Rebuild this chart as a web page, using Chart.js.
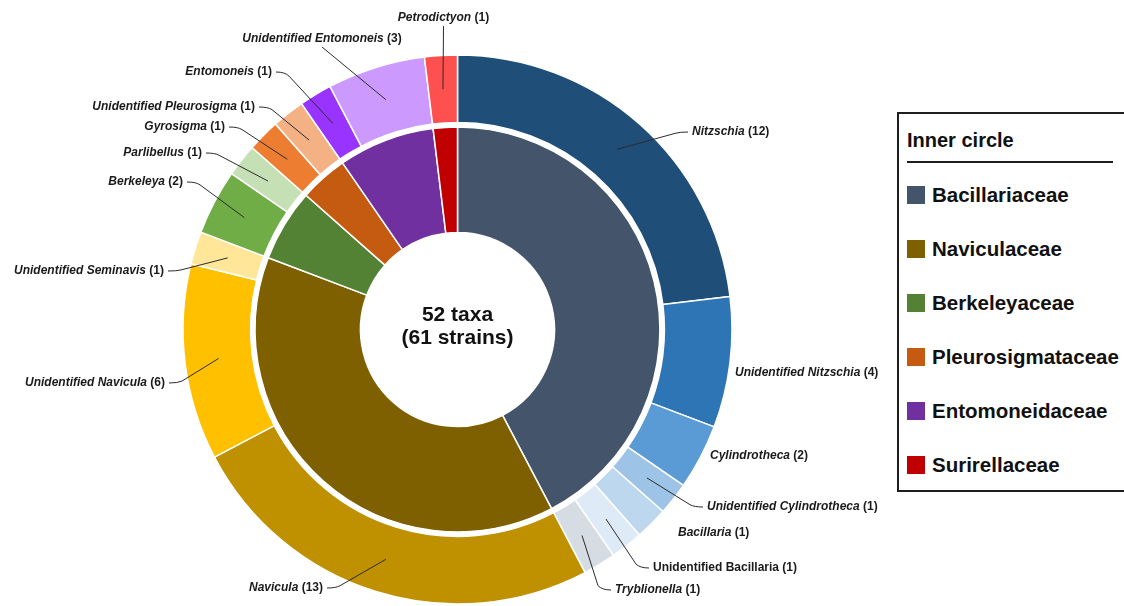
<!DOCTYPE html>
<html>
<head>
<meta charset="utf-8">
<title>Diatom taxa</title>
<script src="https://cdn.jsdelivr.net/npm/chart.js@4.4.1/dist/chart.umd.min.js"></script>
<style>
    html, body { margin: 0; padding: 0; background: #fff; overflow: hidden; }
    #wrap { position: relative; width: 1124px; height: 606px; overflow: hidden; font-family: "Liberation Sans", Arial, sans-serif; }
    #ringChart { position: absolute; left: 0; top: 0; }
    #legend {
        position: absolute; left: 897px; top: 112px; width: 280px; height: 380px;
        border: 2px solid #1e1e1e; box-sizing: border-box; background: #fff;
    }
    #legend .legend-title {
        margin: 14px 0 0 8px; font-size: 20px; font-weight: bold; line-height: 24px; color: #111;
    }
    #legend .legend-rule { margin: 9px 0 0 8px; width: 206px; height: 2px; background: #1e1e1e; }
    #legend ul { list-style: none; margin: 5px 0 0 8px; padding: 0; }
    #legend li { height: 54px; display: flex; align-items: center; font-size: 20.5px; font-weight: bold; color: #111; }
    #legend .swatch { width: 18px; height: 18px; margin-right: 7px; flex: none; }
</style>
</head>
<body>
<div id="wrap">
    <canvas id="ringChart" width="1124" height="606"></canvas>
    <div id="legend">
        <div class="legend-title">Inner circle</div>
        <div class="legend-rule"></div>
        <ul id="legend-list"></ul>
    </div>
</div>
<script>
// Outer ring: genera (number of taxa)
const genusNames = [
    'Nitzschia', 'Unidentified Nitzschia', 'Cylindrotheca', 'Unidentified Cylindrotheca',
    'Bacillaria', 'Unidentified Bacillaria', 'Tryblionella',
    'Navicula', 'Unidentified Navicula', 'Unidentified Seminavis',
    'Berkeleya', 'Parlibellus',
    'Gyrosigma', 'Unidentified Pleurosigma',
    'Entomoneis', 'Unidentified Entomoneis',
    'Petrodictyon'
];
const genusCounts = [12, 4, 2, 1, 1, 1, 1, 13, 6, 1, 2, 1, 1, 1, 1, 3, 1];
const genusColors = [
    '#1f4e79', '#2e75b6', '#5b9bd5', '#9dc3e6', '#bdd7ee', '#deebf7', '#d6dce4',
    '#bf9000', '#ffc000', '#ffe699',
    '#70ad47', '#c5e0b4',
    '#ed7d31', '#f4b183',
    '#9933ff', '#cc99ff',
    '#ff5050'
];
// names printed upright instead of italic
const uprightNames = ['Unidentified Bacillaria'];

// Inner ring: families
const familyNames = ['Bacillariaceae', 'Naviculaceae', 'Berkeleyaceae', 'Pleurosigmataceae', 'Entomoneidaceae', 'Surirellaceae'];
const familyCounts = [22, 20, 3, 2, 4, 1];
const familyColors = ['#44546a', '#7f6000', '#548235', '#c55a11', '#7030a0', '#c00000'];

const centerLines = ['52 taxa', '(61 strains)'];

// where each genus label sits, relative to the chart centre
// align: which side of the text the leader attaches to; lead: 'stub' | 'below' | null
const calloutLayout = [
    { dx: 234.5, dy: -197.5, align: 'left', lead: 'stub' },
    { dx: 277.5, dy: 43.5, align: 'left', lead: null },
    { dx: 252.5, dy: 126.5, align: 'left', lead: null },
    { dx: 249.5, dy: 177.5, align: 'left', lead: 'stub' },
    { dx: 220.5, dy: 203.5, align: 'left', lead: null },
    { dx: 195.5, dy: 238.5, align: 'left', lead: 'stub' },
    { dx: 157.5, dy: 260.5, align: 'left', lead: 'stub' },
    { dx: -134.5, dy: 258.5, align: 'right', lead: 'stub' },
    { dx: -292.5, dy: 53.5, align: 'right', lead: 'stub' },
    { dx: -293.5, dy: -58.5, align: 'right', lead: 'stub' },
    { dx: -274.5, dy: -147.5, align: 'right', lead: 'stub' },
    { dx: -255.5, dy: -176.5, align: 'right', lead: 'stub' },
    { dx: -232.5, dy: -202.5, align: 'right', lead: 'stub' },
    { dx: -202.5, dy: -222.5, align: 'right', lead: 'stub' },
    { dx: -185.5, dy: -257.5, align: 'right', lead: 'stub' },
    { dx: -135.5, dy: -290.5, align: 'center', lead: 'below' },
    { dx: -14, dy: -311.5, align: 'center', lead: 'below' }
];

const FONT = '"Liberation Sans", Arial, sans-serif';

// genus labels with leader lines + the text in the hole
const calloutPlugin = {
    id: 'callouts',
    afterDraw(chart) {
        const ctx = chart.ctx;
        const outer = chart.getDatasetMeta(0);
        const cx = outer.data[0].x;
        const cy = outer.data[0].y;

        ctx.save();
        ctx.textBaseline = 'middle';
        genusNames.forEach((name, i) => {
            const pos = calloutLayout[i];
            const arc = outer.data[i];
            const anchor = arc.getCenterPoint();
            const tx = cx + pos.dx;
            const ty = cy + pos.dy;

            const nameFont = (uprightNames.includes(name) ? 'bold ' : 'italic bold ') + '12px ' + FONT;
            const countText = ' (' + genusCounts[i] + ')';
            ctx.font = nameFont;
            const nameW = ctx.measureText(name).width;
            ctx.font = 'bold 12px ' + FONT;
            const countW = ctx.measureText(countText).width;
            const totalW = nameW + countW;

            let left = tx;
            if (pos.align === 'right') left = tx - totalW;
            else if (pos.align === 'center') left = tx - totalW / 2;

            // leader line
            if (pos.lead) {
                ctx.strokeStyle = '#2b2b2b';
                ctx.lineWidth = 1;
                ctx.beginPath();
                if (pos.lead === 'below') {
                    ctx.moveTo(tx, ty + 8);
                    ctx.lineTo(anchor.x, anchor.y);
                } else {
                    const dir = pos.align === 'right' ? 1 : -1;
                    const sx = tx + dir * 4;
                    const ex = tx + dir * 13;
                    ctx.moveTo(sx, ty);
                    ctx.quadraticCurveTo(ex, ty, ex + dir * 4, ty + (anchor.y - ty) * 0.08);
                    ctx.lineTo(anchor.x, anchor.y);
                }
                ctx.stroke();
            }

            ctx.fillStyle = '#1a1a1a';
            ctx.textAlign = 'left';
            ctx.font = nameFont;
            ctx.fillText(name, left, ty);
            ctx.font = 'bold 12px ' + FONT;
            ctx.fillText(countText, left + nameW, ty);
        });

        // total in the middle
        ctx.fillStyle = '#111';
        ctx.textAlign = 'center';
        ctx.font = 'bold 21px ' + FONT;
        ctx.fillText(centerLines[0], cx, cy - 14);
        ctx.fillText(centerLines[1], cx, cy + 9);
        ctx.restore();
    }
};

const totalTaxa = familyCounts.reduce((a, b) => a + b, 0);

new Chart(document.getElementById('ringChart'), {
    type: 'doughnut',
    data: {
        labels: genusNames,
        datasets: [
            { label: 'Genus', data: genusCounts, backgroundColor: genusColors, weight: 67.5 },
            // thin white band between the two rings
            { label: 'gap', data: [totalTaxa], backgroundColor: ['#ffffff'], borderWidth: 0, weight: 4.5 },
            { label: 'Family', data: familyCounts, backgroundColor: familyColors, weight: 105.25 }
        ]
    },
    options: {
        responsive: false,
        animation: false,
        cutout: 97,
        borderColor: '#ffffff',
        borderWidth: 1.5,
        layout: { padding: { left: 182.25, top: 54.25, right: 391.25, bottom: 1.25 } },
        plugins: {
            legend: { display: false },
            tooltip: { enabled: false }
        },
        events: []
    },
    plugins: [calloutPlugin]
});

// legend for the inner ring
const legendList = document.getElementById('legend-list');
familyNames.forEach((name, i) => {
    const li = document.createElement('li');
    li.innerHTML = `<span class="swatch" style="background:${familyColors[i]}"></span>${name}`;
    legendList.appendChild(li);
});
</script>
</body>
</html>
